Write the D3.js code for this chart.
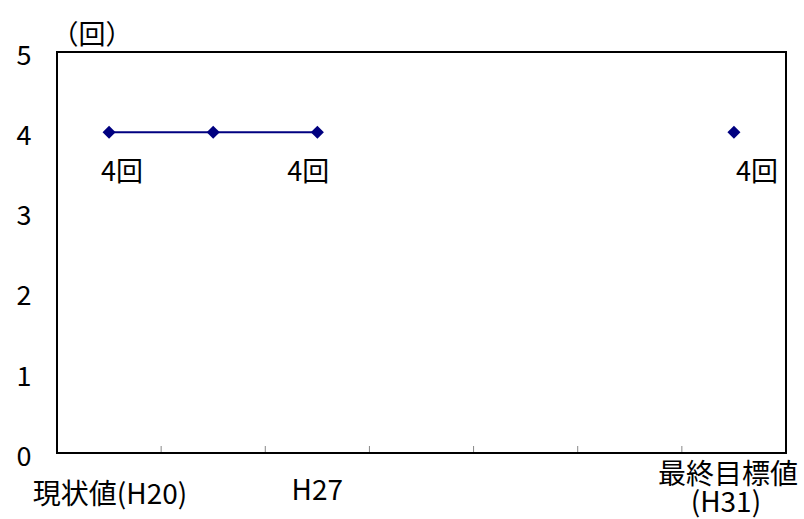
<!DOCTYPE html>
<html><head><meta charset="utf-8">
<script src="https://cdn.jsdelivr.net/npm/d3@7"></script>
<style>body{margin:0;background:#fff}svg{display:block}text{font-family:"Noto Sans CJK JP",sans-serif;fill:#000}</style>
</head><body>
<script>
const categories = ["c0","c1","c2","c3","c4","c5","c6"];
const categoryLabels = [["現状値(H20)"],[""],["H27"],[""],[""],[""],["最終目標値","(H31)"]];
const values = [4,4,4,null,null,null,4];
const dataLabels = ["4回",null,"4回",null,null,null,"4回"];
const yTicks = [0,1,2,3,4,5];
const unitLabel = "（回）";
const labelDx = [13,0,-9,0,0,0,23];

const W=804,H=519,FS=27,XFS=28;
const m={left:57,right:18,top:52,bottom:66};
const svg=d3.select("body").append("svg").attr("width",W).attr("height",H);
const x=d3.scaleBand().domain(categories).range([m.left,W-m.right]);
const y=d3.scaleLinear().domain([0,5]).range([H-m.bottom,m.top]);

svg.append("g").selectAll("line").data(categories.slice(1)).join("line")
 .attr("x1",d=>x(d)).attr("x2",d=>x(d)).attr("y1",y(0)).attr("y2",y(0)-7)
 .attr("stroke","#888").attr("stroke-width",1);
svg.append("rect").attr("x",m.left).attr("y",m.top).attr("width",W-m.left-m.right).attr("height",H-m.top-m.bottom)
 .attr("fill","none").attr("stroke","#000").attr("stroke-width",2);

svg.append("g").selectAll("text").data(yTicks).join("text")
 .attr("x",24).attr("y",d=>y(d)+3).attr("dy","0.36em").attr("text-anchor","middle")
 .attr("font-size",FS).text(d=>d);
svg.append("text").attr("x",92).attr("y",34).attr("dy","0.36em").attr("text-anchor","middle").attr("font-size",FS).text(unitLabel);

const xl=svg.append("g").selectAll("text").data(categories).join("text")
 .attr("text-anchor","middle").attr("font-size",XFS);
xl.each(function(d,i){
  const lines=categoryLabels[i];
  const t=d3.select(this);
  const cx=x(d)+x.bandwidth()/2;
  if(i===0){t.append("tspan").attr("x",cx+1).attr("y",504).text(lines[0]);}
  else if(lines.length===1){t.append("tspan").attr("x",cx).attr("y",500).text(lines[0]);}
  else{
    t.append("tspan").attr("x",cx-6).attr("y",484).text(lines[0]);
    t.append("tspan").attr("x",cx-8).attr("y",512).text(lines[1]);
  }
});

const pts=categories.map((c,i)=>({c,v:values[i],i})).filter(d=>d.v!=null);
const line=d3.line().x(d=>x(d.c)+x.bandwidth()/2).y(d=>y(d.v));
svg.append("path").datum(categories.map((c,i)=>({c,v:values[i]})).slice(0,3))
 .attr("d",line).attr("fill","none").attr("stroke","#000080").attr("stroke-width",2);
svg.append("g").selectAll("path").data(pts).join("path")
 .attr("d",d3.symbol(d3.symbolSquare,85)())
 .attr("transform",d=>`translate(${x(d.c)+x.bandwidth()/2},${y(d.v)}) rotate(45)`)
 .attr("fill","#000080");
svg.append("g").selectAll("text").data(pts.filter(d=>dataLabels[d.i])).join("text")
 .attr("x",d=>x(d.c)+x.bandwidth()/2+labelDx[d.i]).attr("y",d=>y(d.v)+39)
 .attr("dy","0.36em").attr("text-anchor","middle").attr("font-size",FS)
 .text(d=>dataLabels[d.i]);
</script>
</body></html>
